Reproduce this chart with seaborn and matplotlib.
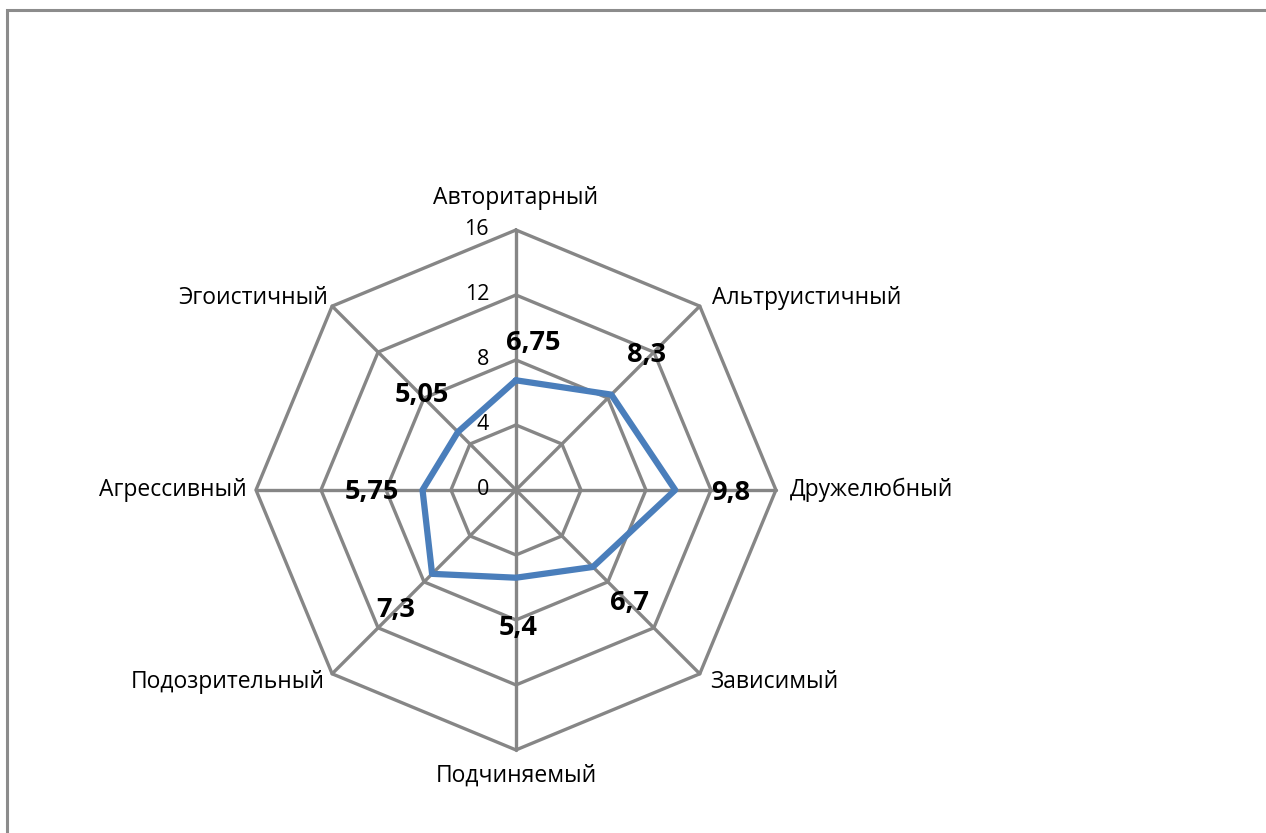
import numpy as np
import pandas as pd
import matplotlib
matplotlib.use("Agg")
import matplotlib.pyplot as plt
import seaborn as sns

# data
categories = ["Авторитарный", "Альтруистичный", "Дружелюбный", "Зависимый",
              "Подчиняемый", "Подозрительный", "Агрессивный", "Эгоистичный"]
values = [6.75, 8.3, 9.8, 6.7, 5.4, 7.3, 5.75, 5.05]
value_labels = ["6,75", "8,3", "9,8", "6,7", "5,4", "7,3", "5,75", "5,05"]
r_ticks = [0, 4, 8, 12, 16]

# label offsets in pixels (dx, dy up)
value_offsets = [(17, 37), (35, 40), (55, -3), (37, -36),
                 (2, -50), (-36, -36), (-51, -2), (-36, 37)]
cat_offsets = [(0, 32, "center"), (12, 8, "left"), (14, 0, "left"), (10, -8, "left"),
               (0, -26, "center"), (-7, -8, "right"), (-9, 0, "right"), (-4, 8, "right")]

sns.set_style("white")
plt.rcParams["font.family"] = ["Open Sans", "DejaVu Sans"]

grid_col = "#868686"
line_col = "#4a7ebb"

fig = plt.figure(figsize=(12.66, 8.33), dpi=100)
ax = fig.add_axes([0.2022, 0.0997, 0.4107, 0.6242], projection="polar")
ax.set_theta_offset(np.pi / 2)
ax.set_theta_direction(-1)
ax.set_rlim(0, 16)

n = len(categories)
theta = np.linspace(0, 2 * np.pi, n, endpoint=False)
theta_closed = np.append(theta, 2 * np.pi)

# polygon grid
for r in r_ticks[1:]:
    ax.plot(theta_closed, [r] * (n + 1), color=grid_col, lw=2.4, clip_on=False, zorder=1)
for t in theta:
    ax.plot([t, t], [0, r_ticks[-1]], color=grid_col, lw=2.4, clip_on=False, zorder=1)

# data series
df = pd.DataFrame({"theta": theta_closed, "value": values + values[:1]})
sns.lineplot(data=df, x="theta", y="value", sort=False, estimator=None, ax=ax,
             color=line_col, lw=4.5, zorder=3, clip_on=False)
ax.set_rlim(0, 16)
ax.axis("off")

# radial tick labels
for r in r_ticks:
    ax.annotate(str(r), (0, r), xytext=(-27, 0), textcoords="offset pixels",
                ha="right", va="center", fontsize=15.5, color="black")

# category labels
for t, cat, (dx, dy, ha) in zip(theta, categories, cat_offsets):
    ax.annotate(cat, (t, r_ticks[-1]), xytext=(dx, dy), textcoords="offset pixels",
                ha=ha, va="center", fontsize=16.5, color="black", annotation_clip=False)

# value labels
for t, v, lab, (dx, dy) in zip(theta, values, value_labels, value_offsets):
    ax.annotate(lab, (t, v), xytext=(dx, dy), textcoords="offset pixels",
                ha="center", va="center", fontsize=19.5, fontweight="bold",
                color="black", zorder=5)

# chart area border (only top/left visible in the crop)
fig.patches.append(plt.Rectangle((7 / 1266, -0.05), 1.1, 0.988 + 0.05,
                                 transform=fig.transFigure, fill=False,
                                 edgecolor="#8c8c8c", lw=2.2))

fig.savefig("out.png", dpi=100)
